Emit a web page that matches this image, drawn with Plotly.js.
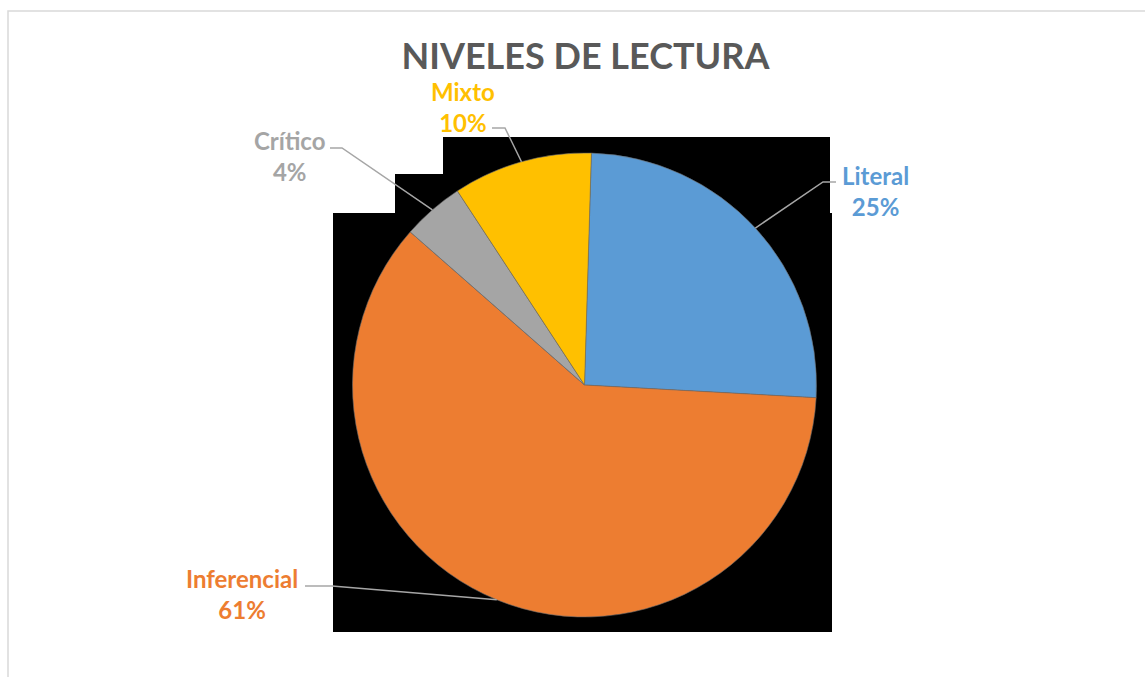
<!DOCTYPE html>
<html>
<head>
<meta charset="utf-8">
<script src="https://cdn.plot.ly/plotly-3.0.1.min.js"></script>
<style>
  html, body { margin: 0; padding: 0; background: #ffffff; }
  #chart { width: 1145px; height: 677px; }
</style>
</head>
<body>
<div id="chart"></div>
<script>
// ---- Data ----
const categories = ["Literal", "Inferencial", "Crítico", "Mixto"];
const values = [25.4, 60.6, 4.3, 9.7];
const colors = ["#5B9BD5", "#ED7D31", "#A5A5A5", "#FFC000"];
const chartTitle = "NIVELES DE LECTURA";

// ---- Layout constants (pixels) ----
const W = 1145, H = 677;
const cx = 584.5, cy = 385, R = 232;
const rotation = 1.7; // degrees clockwise from 12 o'clock where first slice starts

// label positions: text center x/y, elbow point, and where the line meets the text
const labelPos = [
  { tx: 875, ty: 191, ex: 823, ey: 182, lx: 836 },
  { tx: 242, ty: 594, ex: 332, ey: 586, lx: 305 },
  { tx: 290, ty: 156, ex: 342, ey: 148, lx: 330 },
  { tx: 463, ty: 107, ex: 505, ey: 128, lx: 492 }
];

const px = x => x / W;
const py = y => 1 - y / H;

// compute slice mid-angle anchors from the data
const total = values.reduce((a, b) => a + b, 0);
let acc = 0;
const anchors = values.map(v => {
  const mid = rotation + (acc + v / 2) / total * 360;
  acc += v;
  const rad = mid * Math.PI / 180;
  return { x: cx + R * Math.sin(rad), y: cy - R * Math.cos(rad) };
});

const shapes = [];
// background artifacts (black blocks behind pie)
[[333, 213, 832, 632], [395, 174, 445, 214], [443, 137, 830, 214]].forEach(r => {
  shapes.push({ type: "rect", xref: "paper", yref: "paper", layer: "below",
    x0: px(r[0]), x1: px(r[2]), y0: py(r[3]), y1: py(r[1]),
    fillcolor: "#000000", line: { width: 0 } });
});
// chart border (top & left)
shapes.push({ type: "path", xref: "paper", yref: "paper", layer: "below",
  path: `M ${px(8)} ${py(H + 5)} L ${px(8)} ${py(11)} L ${px(W + 5)} ${py(11)}`,
  line: { color: "#D9D9D9", width: 1.5 } });

// leader lines
anchors.forEach((a, i) => {
  const p = labelPos[i];
  shapes.push({ type: "path", xref: "paper", yref: "paper", layer: "above",
    path: `M ${px(a.x)} ${py(a.y)} L ${px(p.ex)} ${py(p.ey)} L ${px(p.lx)} ${py(p.ey)}`,
    line: { color: "#A6A6A6", width: 1.5 } });
});

const annotations = categories.map((c, i) => {
  const pct = Math.round(values[i] / total * 100);
  const p = labelPos[i];
  return {
    xref: "paper", yref: "paper", x: px(p.tx), y: py(p.ty),
    xanchor: "center", yanchor: "middle", showarrow: false,
    text: `<b>${c}</b><br><b>${pct}%</b>`,
    align: "center",
    font: { family: "Lato, sans-serif", size: 24, color: colors[i] }
  };
});

const trace = {
  type: "pie",
  labels: categories,
  values: values,
  sort: false,
  direction: "clockwise",
  rotation: rotation,
  textinfo: "none",
  hoverinfo: "label+percent",
  marker: { colors: colors, line: { color: "#6b6b6b", width: 0.6 } },
  domain: { x: [px(cx - R), px(cx + R)], y: [py(cy + R), py(cy - R)] },
  showlegend: false
};

const layout = {
  width: W, height: H,
  margin: { l: 0, r: 0, t: 0, b: 0 },
  paper_bgcolor: "#ffffff",
  title: {
    text: `<b>${chartTitle}</b>`,
    x: 585.5 / W, xanchor: "center", xref: "paper",
    y: py(56), yanchor: "middle", yref: "paper",
    font: { family: "Lato, sans-serif", size: 36, color: "#595959" }
  },
  shapes: shapes,
  annotations: annotations,
  showlegend: false
};

Plotly.newPlot("chart", [trace], layout, { displayModeBar: false, staticPlot: true });
</script>
</body>
</html>
